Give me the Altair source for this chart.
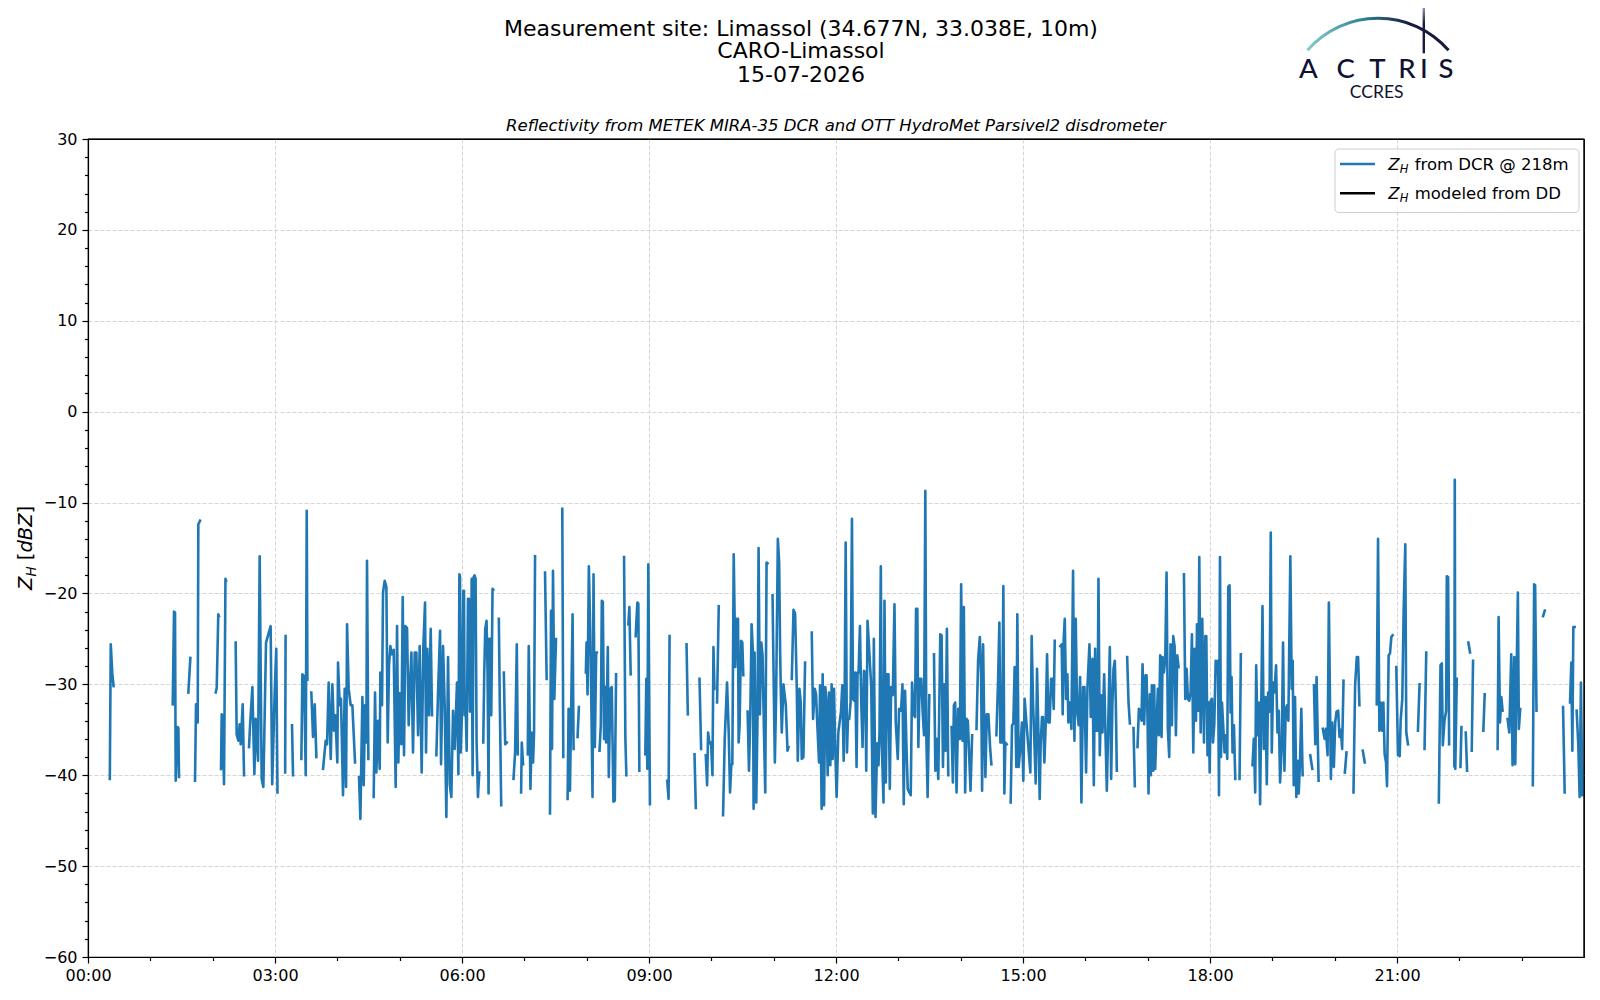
import altair as alt
import pandas as pd

# ---------------------------------------------------------------------------
# Z_H from DCR @ 218 m  (hours after 00:00, reflectivity in dBZ); None = gap
# ---------------------------------------------------------------------------
T_00_03 = [0.35, 0.365, 0.39, 0.41, None,
           1.359, 1.38, 1.396, 1.407, 1.434, 1.45, 1.46, None,
           1.61, 1.642, None,
           1.717, 1.733, 1.76, 1.77, 1.797, None,
           2.049, 2.065, 2.09, 2.10, None,
           2.134, 2.145, 2.16, 2.182, 2.205, 2.215, None,
           2.369, 2.385, 2.412, 2.433, 2.45, 2.482, 2.503, None,
           2.583, 2.6, 2.637, 2.669, 2.69, 2.728, 2.754, 2.786, 2.813, 2.856, 2.93, 2.955, 2.995]
Z_00_03 = [-40.4, -25.6, -28.8, -30.2, None,
           -32.2, -22.0, -22.1, -40.6, -34.7, -34.8, -40.2, None,
           -30.9, -27.1, None,
           -40.6, -32.2, -34.2, -12.4, -12.0, None,
           -30.9, -30.4, -22.3, -22.5, None,
           -39.3, -33.3, -33.4, -41.0, -18.4, -18.6, None,
           -25.4, -35.5, -36.2, -34.4, -36.6, -32.2, -40.0, None,
           -36.9, -34.5, -30.3, -39.9, -33.8, -38.4, -15.9, -40.4, -41.3, -25.4, -23.6, -41.0, -30.9]

T_03_06 = [3.02, 3.04, None,
           3.163, 3.17, None,
           3.273, 3.289, None,
           3.423, 3.439, 3.466, 3.493, 3.509, 3.52, None,
           3.583, 3.61, 3.637, 3.664, None,
           3.771, 3.813, 3.835, 3.861, 3.894, 3.92, 3.947, 3.968, 4.0, 4.011, 4.038, 4.059, 4.091,
           4.118, 4.14, 4.156, 4.182, 4.214, 4.241, 4.284, None,
           4.348, 4.37, 4.402, 4.423, 4.444, 4.466, 4.476, 4.498, None,
           4.583, 4.605, 4.626, 4.653, 4.68, 4.69, 4.717, 4.733, 4.76, 4.787,
           4.808, 4.829, 4.851, 4.872, 4.904, 4.936, 4.958, 4.979, 5.0, 5.027,
           5.049, 5.07, 5.091, 5.118, 5.145, 5.161, 5.188, 5.214, 5.241, 5.268,
           5.295, 5.321, 5.353, 5.38, 5.407, 5.423, 5.444, 5.471, 5.498, 5.519, None,
           5.589, 5.615, 5.648, 5.664, 5.696, 5.722, 5.749, 5.776, 5.803, 5.829,
           5.856, 5.883, 5.92, 5.942, 5.958, 5.968, 5.979]
Z_03_06 = [-26.1, -41.9, None,
           -39.7, -24.7, None,
           -34.5, -40.0, None,
           -38.2, -28.9, -29.1, -40.0, -10.9, -29.5, None,
           -30.9, -35.8, -32.2, -38.0, None,
           -39.3, -36.2, -36.6, -29.8, -38.2, -30.0, -35.1, -33.4, -38.6, -27.6, -32.3, -31.6, -42.2,
           -30.5, -41.3, -23.4, -30.5, -32.3, -32.3, -38.6, None,
           -40.2, -44.8, -31.4, -41.1, -32.3, -36.4, -16.4, -38.2, None,
           -42.4, -30.9, -39.7, -34.0, -39.3, -28.7, -32.3, -19.9, -18.6, -19.3,
           -36.4, -27.9, -25.8, -26.7, -26.2, -41.3, -23.6, -38.6, -31.0, -36.6,
           -20.4, -37.8, -23.6, -23.8, -34.5, -30.9, -26.5, -37.5, -26.5, -26.5,
           -35.6, -25.8, -39.7, -25.8, -21.0, -37.5, -26.1, -33.4, -23.9, -33.4, None,
           -37.8, -31.0, -24.1, -38.8, -25.8, -32.3, -44.6, -27.0, -41.0, -42.4,
           -32.9, -37.1, -29.8, -39.9, -17.9, -18.1, -37.5]

T_06_09 = [6.0, 6.021, 6.032, 6.043, 6.059, 6.075, 6.096, 6.112, 6.128, 6.144,
           6.155, 6.17, 6.186, 6.202, 6.218, 6.234, 6.256, 6.277, None,
           6.341, 6.357, 6.373, 6.394, 6.41, 6.426, 6.437, 6.453, 6.469, 6.49, 6.501, None,
           6.591, 6.607, 6.629, None,
           6.671, 6.693, 6.719, None,
           6.826, 6.852, 6.879, 6.895, None,
           6.948, 6.959, 6.98, None,
           7.055, 7.071, 7.098, 7.119, 7.14, 7.156, 7.172, None,
           7.332, 7.358, None,
           7.412, 7.428, 7.444, 7.46, 7.481, 7.508, None,
           7.609, 7.625, None,
           7.694, 7.71, 7.732, 7.774, 7.79, None,
           7.854, 7.875, None,
           7.987, 7.998, 8.014, 8.035, 8.057, 8.078, 8.094, 8.11, 8.131, 8.153, 8.163, None,
           8.206, 8.227, 8.243, 8.259, 8.28, 8.296, 8.312, 8.339, 8.355, 8.381, 8.403, 8.429, 8.451, 8.472, None,
           8.6, 8.621, 8.637, None,
           8.669, 8.685, 8.706, None,
           8.786, 8.813, 8.829, 8.845, None,
           8.941, 8.957, 8.973, 8.989, 9.015, None]
Z_06_09 = [-33.0, -19.7, -19.7, -33.4, -32.5, -37.3, -20.6, -20.6, -33.0, -32.8,
           -18.4, -40.0, -18.2, -18.0, -18.4, -36.2, -42.4, -39.7, None,
           -36.4, -28.7, -23.9, -23.0, -28.7, -42.0, -25.0, -25.0, -33.4, -19.5, -19.6, None,
           -22.8, -32.3, -43.3, None,
           -28.7, -36.6, -36.4, None,
           -40.4, -37.5, -25.6, -37.7, None,
           -41.9, -36.4, -38.8, None,
           -37.7, -25.8, -41.5, -35.3, -38.6, -35.3, -15.9, None,
           -17.7, -29.4, None,
           -44.2, -21.9, -37.1, -17.5, -31.6, -25.0, None,
           -10.7, -38.0, None,
           -42.6, -32.7, -41.7, -22.3, -37.1, None,
           -35.8, -32.5, None,
           -28.7, -25.4, -31.1, -17.0, -24.0, -33.6, -42.4, -17.9, -36.9, -26.5, -26.5, None,
           -37.3, -34.5, -20.8, -20.9, -36.0, -30.3, -36.4, -25.9, -40.2, -30.5, -30.3, -42.9, -42.8, -28.9, None,
           -16.0, -36.0, -40.0, None,
           -23.4, -21.5, -28.9, None,
           -24.7, -21.0, -21.1, -39.5, None,
           -37.7, -29.4, -39.3, -16.8, -43.2, None]

T_09_12 = [9.293, 9.314, 9.33, None,
           9.602, 9.623, None,
           9.73, 9.751, None,
           9.81, 9.836, None,
           9.911, 9.932, 9.948, 9.97, 9.996, 10.018, 10.034, 10.05, None,
           10.092, 10.119, None,
           10.188, 10.215, 10.252, 10.279, 10.3, 10.321, 10.337, 10.359, 10.385, 10.407,
           10.428, 10.438, 10.454, 10.476, 10.497, 10.513, None,
           10.582, 10.604, 10.625, 10.646, 10.667, 10.678, 10.694, 10.721, 10.742, 10.758,
           10.779, 10.801, 10.822, 10.843, 10.865, 10.886, 10.902, None,
           10.982, 11.003, 11.019, 11.04, 11.067, 11.088, 11.104, 11.114, 11.13, 11.157,
           11.195, 11.222, 11.238, None,
           11.291, 11.318, 11.344, 11.371, 11.387, 11.414, 11.435, 11.451, 11.477, 11.504, None,
           11.611, 11.632, 11.659, 11.68, 11.696, 11.728, 11.744, 11.77, 11.786, 11.808,
           11.829, 11.85, 11.866, 11.888, 11.909, 11.93, 11.946, 11.968, 11.984]
Z_09_12 = [-40.6, -42.6, -24.7, None,
           -25.6, -33.3, None,
           -37.7, -43.6, None,
           -29.4, -37.1, None,
           -37.8, -41.1, -35.3, -36.5, -36.4, -40.0, -25.9, -30.5, None,
           -32.0, -21.4, None,
           -44.4, -36.0, -29.8, -35.3, -41.9, -38.8, -38.8, -15.7, -28.1, -22.8,
           -22.8, -36.4, -34.4, -25.2, -25.4, -29.0, None,
           -33.0, -39.5, -33.4, -23.4, -26.5, -43.7, -26.5, -43.0, -33.0, -15.0,
           -33.3, -25.4, -26.8, -34.6, -41.9, -16.6, -16.7, None,
           -20.2, -31.1, -38.6, -31.1, -14.0, -16.6, -26.5, -30.5, -35.3, -30.0,
           -32.3, -37.3, -36.9, None,
           -29.4, -21.8, -22.2, -30.5, -38.4, -30.5, -32.0, -38.2, -38.0, -27.6, None,
           -24.3, -33.8, -30.5, -31.1, -33.8, -38.6, -30.1, -43.7, -28.9, -43.3,
           -30.3, -32.3, -40.0, -30.9, -38.9, -30.0, -38.2, -30.5, -36.0]

T_12_15 = [12.01, 12.037, 12.08, 12.101, 12.123, 12.139, 12.155, 12.176, 12.192, 12.213,
           12.234, 12.256, 12.272, 12.293, 12.309, 12.33, 12.346, 12.362, 12.384, 12.405,
           12.426, 12.448, 12.469, 12.485, 12.506, 12.565, 12.591, 12.607, 12.634, 12.66,
           12.682, 12.698, 12.719, 12.735, 12.762, 12.778, 12.799, 12.82, 12.842, 12.863,
           12.884, 12.911, 12.938, 12.959, 12.991, 13.012, 13.044, 13.066, 13.087, 13.108,
           13.13, 13.151, 13.177, 13.199, 13.22, 13.247, 13.268, 13.284, 13.305, 13.321,
           13.343, 13.369, 13.39, 13.412, 13.433, 13.449, 13.47, 13.497, None,
           13.572, 13.594, 13.614, 13.641, 13.673, 13.694, 13.716, 13.737, 13.758, 13.779, 13.801, None,
           13.854, 13.875, 13.891, 13.912, 13.934, 13.961, 13.987, 14.008, 14.03, 14.051,
           14.072, 14.093, 14.115, 14.136, 14.158, 14.184, None,
           14.254, 14.28, 14.307, 14.328, 14.344, 14.36, 14.376, 14.397, 14.419, 14.445, 14.472, 14.493, None,
           14.573, 14.6, 14.621, 14.637, 14.664, 14.685, 14.701, 14.717, 14.738, None,
           14.802, 14.824, 14.845, 14.866, 14.893, 14.909, 14.93, 14.962, 14.983]
Z_12_15 = [-42.4, -35.3, -33.0, -30.1, -38.4, -31.4, -14.4, -37.5, -33.8, -33.8,
           -32.0, -11.8, -31.6, -31.8, -28.7, -39.1, -28.7, -28.7, -23.6, -32.0,
           -36.9, -28.5, -28.7, -39.5, -23.0, -30.2, -44.2, -25.0, -44.6, -36.5,
           -38.9, -35.1, -17.0, -36.6, -43.0, -20.8, -40.8, -28.9, -28.9, -41.5,
           -30.3, -31.2, -21.2, -34.2, -38.2, -32.7, -32.9, -30.0, -43.2, -30.7,
           -36.7, -41.5, -41.9, -42.2, -29.8, -33.3, -33.6, -21.7, -21.7, -36.9,
           -29.4, -29.4, -33.0, -35.6, -8.7, -35.6, -42.4, -31.2, None,
           -26.7, -39.5, -36.0, -40.4, -24.5, -24.6, -39.1, -30.0, -37.3, -23.9, -40.0, None,
           -34.7, -40.8, -32.3, -32.0, -41.9, -32.7, -36.0, -19.0, -36.2, -21.5,
           -41.9, -33.8, -34.0, -37.7, -41.7, -35.6, None,
           -34.9, -27.3, -24.8, -29.2, -41.7, -25.6, -33.4, -40.2, -33.3, -33.3, -36.9, -38.8, None,
           -35.6, -29.6, -23.2, -36.4, -36.4, -19.2, -42.0, -36.4, -36.6, None,
           -43.0, -34.5, -34.3, -28.1, -39.1, -22.3, -39.1, -36.7, -34.2]

T_15_18 = [15.005, 15.026, 15.096, 15.118, 15.139, 15.161, 15.182, 15.204, 15.225, 15.246,
           15.268, 15.284, 15.305, 15.321, 15.343, 15.364, 15.386, 15.407, 15.428, 15.45,
           15.471, 15.493, 15.509, None,
           15.6, 15.621, 15.637, 15.653, 15.67, 15.691, 15.712, 15.728, 15.75, 15.777,
           15.803, 15.825, 15.846, 15.868, 15.894, 15.916, 15.937, 15.964, 15.986, 16.012,
           16.034, 16.066, 16.087, 16.114, 16.136, 16.157, 16.178, 16.194, 16.211, 16.232,
           16.254, 16.275, 16.302, 16.323, 16.345, 16.366, 16.393, 16.414, 16.435, 16.452,
           16.473, 16.489, 16.505, None,
           16.671, 16.693, 16.714, None,
           16.773, 16.794, None,
           16.837, 16.859, 16.88, 16.901, 16.918, 16.944, 16.966, 16.982, 16.998, 17.014,
           17.035, 17.051, 17.067, 17.089, 17.105, 17.121, 17.142, 17.164, 17.18, 17.201,
           17.223, 17.239, 17.26, 17.282, 17.303, 17.324, 17.346, 17.367, 17.389, 17.41,
           17.432, 17.453, 17.475, 17.496, None,
           17.582, 17.603, 17.625, 17.646, 17.667, 17.689, 17.71, 17.732, 17.753, 17.775,
           17.791, 17.812, 17.828, 17.85, 17.876, 17.903, 17.925, 17.941, 17.96, 17.979, 17.995]
Z_15_18 = [-40.6, -31.6, -37.8, -39.7, -24.7, -32.0, -36.2, -40.9, -28.3, -35.0,
           -42.6, -36.4, -33.6, -33.6, -38.6, -34.4, -26.7, -34.2, -34.2, -29.4,
           -29.4, -32.7, -25.2, None,
           -25.8, -25.6, -33.3, -25.0, -22.8, -31.6, -28.9, -34.2, -32.0, -34.9,
           -17.5, -36.2, -22.8, -33.0, -34.5, -29.2, -43.0, -30.3, -30.3, -39.7,
           -30.3, -25.6, -33.6, -27.2, -41.1, -26.1, -35.1, -35.1, -18.4, -37.8,
           -31.2, -35.3, -28.9, -35.5, -41.7, -34.9, -25.9, -40.4, -32.0, -28.3,
           -27.4, -32.0, -39.5, None,
           -27.0, -32.0, -34.3, None,
           -34.8, -41.2, None,
           -36.9, -32.7, -32.9, -34.0, -27.8, -34.4, -29.0, -29.0, -33.8, -42.0,
           -31.1, -40.0, -30.1, -39.5, -30.1, -39.3, -34.5, -30.5, -35.6, -26.8,
           -35.8, -27.0, -28.7, -27.2, -17.7, -34.9, -38.0, -25.6, -34.5, -24.7,
           -25.8, -35.6, -26.8, -28.1, None,
           -17.9, -31.6, -28.3, -31.6, -31.8, -30.9, -24.5, -37.5, -26.1, -34.0,
           -23.4, -32.9, -16.0, -35.3, -22.8, -36.4, -24.7, -24.7, -37.8, -32.0, -39.7]

T_18_21 = [18.011, 18.032, 18.048, 18.069, 18.091, 18.112, 18.128, 18.144, 18.16, 18.176,
           18.192, 18.213, 18.234, 18.256, 18.277, 18.293, 18.314, 18.33, 18.346, 18.362,
           18.384, 18.405, None,
           18.474, 18.495, None,
           18.682, 18.703, 18.725, 18.741, 18.762, 18.783, 18.804, 18.826, 18.842, 18.863,
           18.89, 18.911, 18.932, 18.954, 18.975, 18.991, 19.012, 19.034, 19.06, 19.082,
           19.103, 19.124, 19.151, 19.172, 19.194, 19.215, 19.236, 19.257, 19.289, 19.311,
           19.327, 19.343, 19.364, 19.385, 19.407, 19.423, 19.444, 19.465, 19.486, None,
           19.609, 19.641, None,
           19.668, 19.689, 19.71, 19.742, None,
           19.811, 19.838, 19.859, 19.886, 19.907, 19.939, 19.961, 19.987, 20.009, 20.03,
           20.056, 20.078, 20.099, 20.12, 20.142, None,
           20.163, 20.19, None,
           20.302, 20.328, 20.355, 20.376, 20.397, None,
           20.451, 20.483, None,
           20.675, 20.696, 20.717, 20.738, 20.76, 20.781, 20.802, 20.824, 20.84, 20.866,
           20.888, 20.909, 20.93, None,
           20.989, 21.016, 21.043, 21.059, 21.085, 21.107, 21.133, 21.149, 21.176, None]
Z_18_21 = [-31.8, -31.6, -36.4, -34.4, -27.4, -28.7, -27.4, -42.2, -16.0, -38.0,
           -32.0, -34.7, -37.5, -35.6, -38.2, -19.3, -19.1, -33.1, -29.2, -37.5,
           -34.5, -40.4, None,
           -40.4, -26.7, None,
           -38.9, -36.0, -41.9, -27.9, -35.6, -32.0, -43.2, -30.1, -21.4, -37.1,
           -31.4, -41.0, -30.9, -33.0, -13.3, -37.5, -29.8, -30.9, -27.9, -35.3,
           -32.9, -40.8, -36.9, -25.4, -39.5, -32.7, -32.3, -34.0, -15.9, -30.5,
           -27.4, -41.1, -31.4, -42.4, -38.4, -42.0, -38.6, -32.7, -40.0, None,
           -37.8, -39.3, None,
           -30.1, -36.6, -29.2, -40.6, None,
           -34.9, -36.0, -34.9, -37.8, -21.0, -40.4, -34.2, -39.1, -34.2, -33.0,
           -32.9, -35.8, -35.0, -37.1, -29.6, None,
           -39.7, -37.5, None,
           -41.9, -30.1, -27.0, -27.0, -32.3, None,
           -37.3, -38.6, None,
           -32.2, -14.0, -35.1, -32.0, -35.1, -32.0, -37.7, -38.6, -41.2, -26.8,
           -26.6, -24.8, -24.6, None,
           -28.1, -37.8, -37.9, -33.9, -31.6, -21.7, -14.6, -35.3, -36.6, None]

T_21_24 = [21.336, 21.362, None,
           21.442, 21.469, None,
           21.671, 21.698, 21.719, 21.735, 21.762, 21.788, 21.799, 21.82, 21.836, None,
           21.92, 21.927, 21.935, 21.959, None,
           22.018, 22.034, None,
           22.103, 22.124, None,
           22.145, 22.172, None,
           22.199, 22.22, None,
           22.385, 22.407, None,
           22.614, 22.63, 22.652, 22.673, 22.694, None,
           22.774, 22.801, 22.833, 22.854, 22.881, 22.897, 22.939, 22.955, 22.977, None,
           23.179, 23.2, 23.216, 23.238, None,
           23.344, 23.371, None,
           23.664, 23.69, None,
           23.776, 23.797, 23.813, 23.829, 23.85, None,
           23.882, 23.909, 23.93, 23.951, 23.973]
Z_21_24 = [-35.1, -30.0, None,
           -37.1, -26.5, None,
           -43.0, -27.9, -27.7, -36.7, -34.0, -32.9, -18.1, -18.2, -36.6, None,
           -39.0, -7.5, -39.3, -29.4, None,
           -39.1, -34.7, None,
           -35.3, -39.5, None,
           -25.4, -26.5, None,
           -37.3, -27.4, None,
           -35.1, -31.1, None,
           -37.1, -22.6, -34.2, -31.4, -32.9, None,
           -33.8, -35.3, -26.7, -38.9, -27.0, -38.8, -19.9, -34.9, -32.7, None,
           -41.1, -19.0, -19.1, -32.9, None,
           -22.5, -21.9, None,
           -32.5, -41.9, None,
           -32.0, -27.6, -37.3, -23.7, -23.7, None,
           -32.9, -36.7, -42.4, -29.8, -42.2]

BLOCKS = [(T_00_03, Z_00_03), (T_03_06, Z_03_06), (T_06_09, Z_06_09), (T_09_12, Z_09_12),
          (T_12_15, Z_12_15), (T_15_18, Z_15_18), (T_18_21, Z_18_21), (T_21_24, Z_21_24)]

TITLE_LINES = ["Measurement site: Limassol (34.677N, 33.038E, 10m)", "CARO-Limassol", "15-07-2026"]
SUBTITLE = "Reflectivity from METEK MIRA-35 DCR and OTT HydroMet Parsivel2 disdrometer"
LEGEND_LABELS = ["from DCR @ 218m", "modeled from DD"]
LEGEND_COLORS = ["#1f77b4", "black"]

rows = []
seg = 0
for T, Z in BLOCKS:
    if len(T) != len(Z):
        raise ValueError("length mismatch %d %d" % (len(T), len(Z)))
    for t, z in zip(T, Z):
        if t is None or z is None:
            seg += 1
            continue
        rows.append((t, z, seg))
df = pd.DataFrame(rows, columns=["hour", "zh", "seg"])

W, H = 1496, 818
FONT = "DejaVu Sans"
NAVY = "#0f1233"

x_axis = alt.Axis(
    values=list(range(0, 24)),
    labelExpr="datum.value % 3 === 0 ? (datum.value < 10 ? '0' : '') + datum.value + ':00' : ''",
    tickSize={"condition": {"test": "datum.value % 3 === 0", "value": 6}, "value": 3.5},
    gridOpacity={"condition": {"test": "datum.value % 3 === 0 && datum.value > 0", "value": 1}, "value": 0},
    grid=True, title=None, labelFlush=False, labelOverlap=False, labelPadding=4,
    labelFont=FONT, labelFontSize=16, labelColor="black",
    domainColor="black", domainWidth=1.2, tickColor="black", tickWidth=1.2,
    gridColor="#d0d0d0", gridDash=[4, 2], gridWidth=0.9,
)
y_axis = alt.Axis(
    values=list(range(-60, 31, 2)),
    labelExpr="datum.value % 10 === 0 ? datum.label : ''",
    tickSize={"condition": {"test": "datum.value % 10 === 0", "value": 6}, "value": 3.5},
    gridOpacity={"condition": {"test": "datum.value % 10 === 0 && datum.value > -60 && datum.value < 30",
                               "value": 1}, "value": 0},
    grid=True, title=None, labelFlush=False, labelOverlap=False, labelPadding=5,
    labelFont=FONT, labelFontSize=16, labelColor="black",
    domainColor="black", domainWidth=1.2, tickColor="black", tickWidth=1.2,
    gridColor="#d0d0d0", gridDash=[4, 2], gridWidth=0.9,
)

line = alt.Chart(df).mark_line(
    color="#1f77b4", strokeWidth=2.6, strokeJoin="round", strokeCap="square"
).encode(
    x=alt.X("hour:Q", scale=alt.Scale(domain=[0, 24], nice=False, zero=False), axis=x_axis),
    y=alt.Y("zh:Q", scale=alt.Scale(domain=[-60, 30], nice=False, zero=False), axis=y_axis),
    detail="seg:N",
)

one = pd.DataFrame({"k": [0]})


def txt(s, x, y, size, font=FONT, color="black", **kw):
    return alt.Chart(one).mark_text(
        text=s, fontSize=size, font=font, color=color, **kw
    ).encode(x=alt.value(x), y=alt.value(y))


layers = [line]

# frame (top and right spines)
layers.append(
    alt.Chart(one).mark_rule(color="black", strokeWidth=1.2)
    .encode(x=alt.value(0), x2=alt.value(W), y=alt.value(0))
)
layers.append(
    alt.Chart(one).mark_rule(color="black", strokeWidth=1.2)
    .encode(x=alt.value(W), y=alt.value(0), y2=alt.value(H))
)

# titles
for s, yy in zip(TITLE_LINES, [-110.4, -87.9, -64.4]):
    layers.append(txt(s, 713, yy, 22, align="center", baseline="middle"))
layers.append(txt(SUBTITLE, 748, -13.3, 16.5, align="center", baseline="middle", fontStyle="italic"))

# y axis title: Z_H [dBZ] (rotated)
layers += [
    txt("Z", -56, 451, 19.5, angle=270, align="left", baseline="alphabetic", fontStyle="italic"),
    txt("H", -52.5, 437.6, 13.5, angle=270, align="left", baseline="alphabetic", fontStyle="italic"),
    txt("[", -56, 421.2, 19.5, angle=270, align="left", baseline="alphabetic"),
    txt("dBZ", -56, 413.6, 19.5, angle=270, align="left", baseline="alphabetic", fontStyle="italic"),
    txt("]", -56, 374.5, 19.5, angle=270, align="left", baseline="alphabetic"),
]

# legend
layers.append(
    alt.Chart(one).mark_rect(fill="white", fillOpacity=0.8, stroke="#cccccc", strokeWidth=1, cornerRadius=4)
    .encode(x=alt.value(1247), x2=alt.value(1491), y=alt.value(10), y2=alt.value(73.6))
)
for i, (lab, col) in enumerate(zip(LEGEND_LABELS, LEGEND_COLORS)):
    dy = i * 29.3
    layers.append(
        alt.Chart(one).mark_rule(color=col, strokeWidth=2.6)
        .encode(x=alt.value(1252), x2=alt.value(1287), y=alt.value(25 + dy))
    )
    layers.append(txt("Z", 1300.3, 31 + dy, 16.5, align="left", baseline="alphabetic", fontStyle="italic"))
    layers.append(txt("H", 1311.7, 34 + dy, 11.5, align="left", baseline="alphabetic", fontStyle="italic"))
    layers.append(txt(lab, 1326.7, 31 + dy, 16.5, align="left", baseline="alphabetic"))

# ACTRIS / CCRES logo
arc_grad = alt.LinearGradient(
    gradient="linear", x1=0, x2=1, y1=0, y2=0,
    stops=[alt.GradientStop(offset=0, color="#86cfc9"),
           alt.GradientStop(offset=0.4, color="#2f8196"),
           alt.GradientStop(offset=0.72, color="#151a3e"),
           alt.GradientStop(offset=1, color="#151a3e")],
)
layers.append(
    alt.Chart(one).mark_arc(radius=95, radius2=92, theta=5.428, theta2=7.138, fill=arc_grad)
    .encode(x=alt.value(1290), y=alt.value(-27.3))
)
bar_grad = alt.LinearGradient(
    gradient="linear", x1=0, x2=0, y1=0, y2=1,
    stops=[alt.GradientStop(offset=0, color="#8a90ad"),
           alt.GradientStop(offset=0.35, color="#151a3e"),
           alt.GradientStop(offset=1, color="#151a3e")],
)
layers.append(
    alt.Chart(one).mark_rect(fill=bar_grad)
    .encode(x=alt.value(1334.6), x2=alt.value(1337), y=alt.value(-131), y2=alt.value(-85.7))
)
for ch, cx in zip(["A", "C", "T", "R", "I", "S"], [1220.3, 1257.7, 1289.5, 1319, 1336, 1358]):
    layers.append(txt(ch, cx, -61.3, 27.5, font="Lato", color=NAVY, align="center", baseline="alphabetic",
                      fontWeight=500))
layers.append(txt("CCRES", 1288.7, -40.7, 17.5, font="Lato", color=NAVY, align="center", baseline="alphabetic"))

chart = alt.layer(*layers).properties(
    width=W, height=H,
    autosize=alt.AutoSizeParams(type="none"),
    padding={"left": 80, "top": 131, "right": 6, "bottom": 30},
    background="white",
).configure_view(stroke="black", strokeWidth=1.2)

chart.save("out.html", embed_options={"renderer": "svg", "actions": False})
